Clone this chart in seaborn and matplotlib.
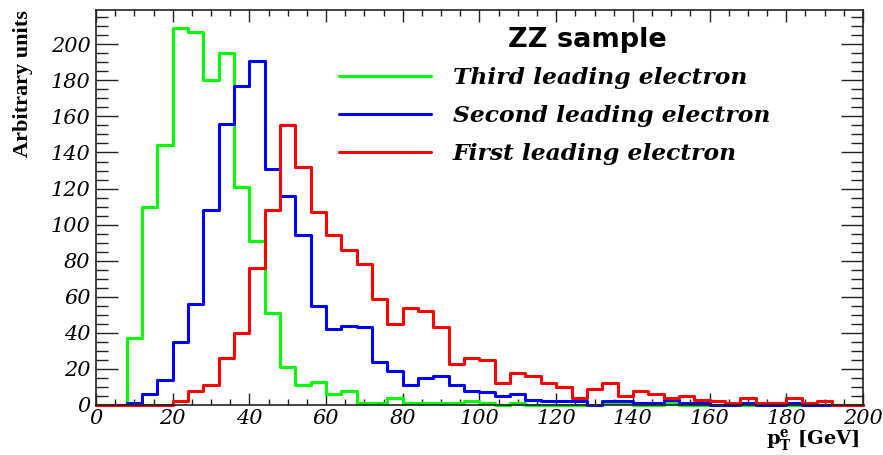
import numpy as np
import matplotlib
matplotlib.use('Agg')
import matplotlib.pyplot as plt
import seaborn as sb
from matplotlib.ticker import MultipleLocator

# pT histograms of the three leading electrons, 4 GeV bins from 0 to 200
bin_edges = list(range(0, 201, 4))
third = [0, 0, 37, 110, 144, 209, 207, 180, 195, 121,
         91, 51, 21, 11, 13, 6, 8, 1, 1, 4,
         1, 1, 1, 1, 2, 1, 0, 1, 0, 0,
         0, 0, 0, 1, 1, 0, 0, 1, 0, 0,
         0, 0, 0, 0, 0, 0, 0, 0, 0, 0]
second = [0, 0, 1, 6, 14, 35, 56, 108, 156, 177,
          191, 131, 116, 94, 55, 42, 44, 43, 24, 19,
          11, 15, 16, 11, 8, 7, 5, 6, 3, 2,
          2, 2, 0, 2, 2, 1, 1, 3, 1, 1,
          0, 0, 1, 0, 0, 1, 0, 0, 0, 0]
first = [0, 0, 0, 0, 0, 2, 8, 11, 26, 40,
         76, 108, 155, 132, 107, 94, 86, 78, 59, 45,
         54, 52, 43, 23, 26, 25, 12, 18, 16, 12,
         10, 4, 9, 12, 5, 8, 6, 4, 5, 3,
         2, 1, 4, 1, 1, 4, 1, 2, 0, 0]
labels = ['Third leading electron', 'Second leading electron', 'First leading electron']
colors = ['#00ff00', '#0000ff', '#ff0000']

sb.set_style('ticks')
plt.rcParams['mathtext.fontset'] = 'custom'
plt.rcParams['mathtext.bf'] = 'DejaVu Serif:bold'
plt.rcParams['mathtext.rm'] = 'DejaVu Serif'
plt.rcParams['text.color'] = 'black'
plt.rcParams['axes.labelcolor'] = 'black'
plt.rcParams['xtick.color'] = 'black'
plt.rcParams['ytick.color'] = 'black'

fig = plt.figure(figsize=(8.83, 4.55), dpi=100)
ax = fig.add_axes([0.1087, 0.1099, 0.8686, 0.8681])

centers = np.array(bin_edges[:-1]) + 2
for vals, lab, col in zip([third, second, first], labels, colors):
    sb.histplot(x=centers, weights=vals, bins=bin_edges, element='step', fill=False,
                color=col, linewidth=2.2, label=lab, ax=ax, clip_on=False)

ax.set_xlim(0, 200)
ax.set_ylim(0, 219)
ax.xaxis.set_major_locator(MultipleLocator(20))
ax.xaxis.set_minor_locator(MultipleLocator(5))
ax.yaxis.set_major_locator(MultipleLocator(20))
ax.yaxis.set_minor_locator(MultipleLocator(5))
ax.tick_params(which='both', direction='in', top=True, right=True, width=1, color='#222222')
ax.tick_params(axis='x', which='major', length=8.6, pad=3)
ax.tick_params(axis='x', which='minor', length=4.3)
ax.tick_params(axis='y', which='major', length=16, pad=4)
ax.tick_params(axis='y', which='minor', length=8.6)
for t in ax.get_xticklabels() + ax.get_yticklabels():
    t.set_family('DejaVu Serif')
    t.set_style('italic')
    t.set_size(15)
    t.set_color('black')
for s in ax.spines.values():
    s.set_linewidth(1.2)
    s.set_color('#222222')

ax.set_xlabel(r'$\mathbf{p}^{\mathbf{e}}_{\mathbf{T}}$ [GeV]', loc='right',
              family='DejaVu Serif', weight='bold', size=14, va='bottom')
ax.xaxis.set_label_coords(0.996, -0.124)
ax.set_ylabel('Arbitrary units', loc='top', family='Liberation Serif', weight='bold', size=16)
ax.yaxis.set_label_coords(-0.082, 1.0)

ax.legend(loc='upper left', bbox_to_anchor=(339 / 883, 1 - 67 / 455),
          bbox_transform=fig.transFigure, frameon=False,
          prop={'family': 'DejaVu Serif', 'weight': 'bold', 'style': 'italic', 'size': 16.8},
          handlelength=3.95, handletextpad=0.92, labelspacing=0.69, borderaxespad=0, borderpad=0)
fig.text(587 / 883, 1 - 47 / 455, 'ZZ sample', ha='center', va='baseline',
         family='DejaVu Sans', weight='bold', size=19.5)

fig.savefig('out.png', dpi=100)
